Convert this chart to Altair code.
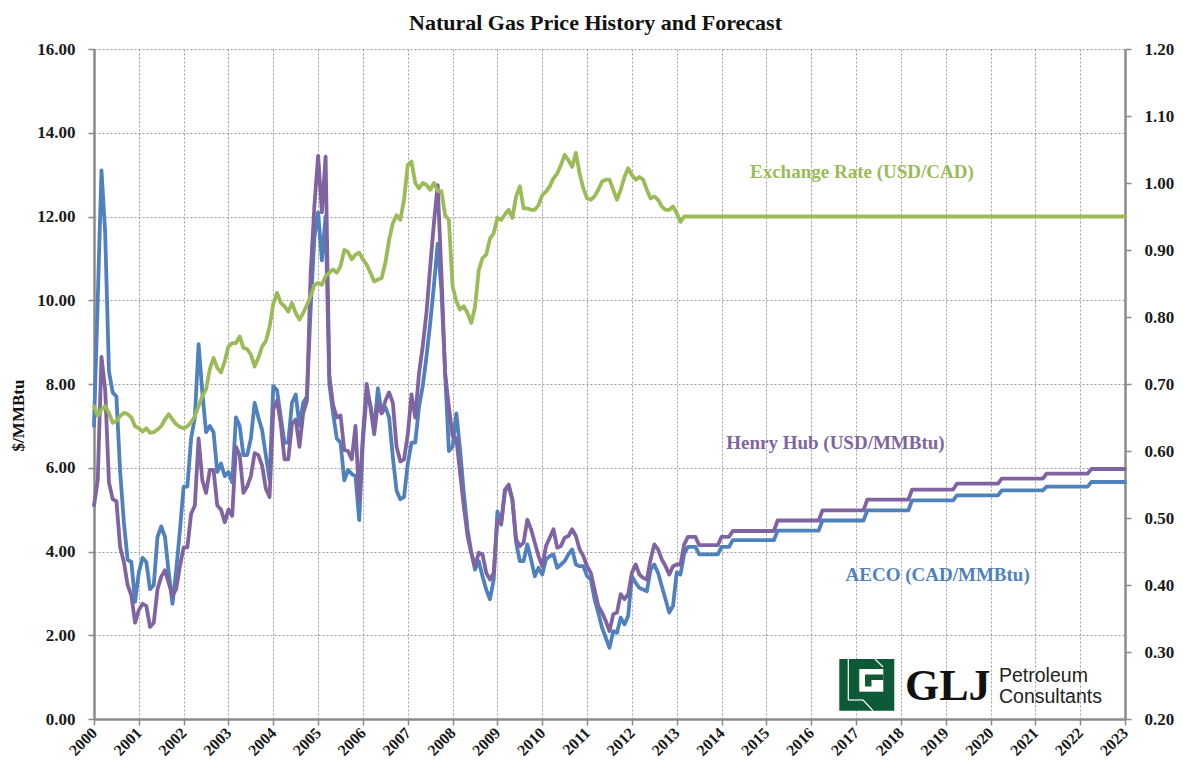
import altair as alt
import pandas as pd

START_YEAR = 2000

# Monthly history, index 0 = Jan 2000
aeco_hist = [
    7.0, 10.0, 13.1, 11.6, 8.3, 7.8, 7.7, 5.9, 4.7, 3.8, 3.75, 2.8,
    3.5, 3.85, 3.75, 3.1, 3.2, 4.35, 4.6, 4.35, 3.5, 2.75, 3.55, 4.5,
    5.55, 5.55, 6.7, 7.2, 8.95, 7.8, 6.85, 7.0, 6.85, 5.9, 6.1, 5.8,
    5.9, 5.65, 7.2, 7.0, 6.3, 6.3, 6.7, 7.55, 7.2, 6.9, 6.3, 5.7,
    7.95, 7.85, 7.2, 6.6, 6.6, 7.55, 7.75, 7.0, 7.55, 7.7, 9.8, 11.5,
    12.1, 10.95, 12.0, 8.0, 7.3, 6.7, 6.6, 5.7, 5.95, 5.85, 5.8, 4.75,
    6.65, 7.75, 7.5, 6.9, 7.9, 7.3, 7.45, 7.2, 6.25, 5.45, 5.25, 5.3,
    6.1, 6.6, 6.6, 7.45, 7.95, 8.65, 9.45, 10.35, 11.35, 10.25, 8.25, 6.4,
    6.5, 7.3, 6.43, 5.4, 4.53, 3.97, 3.57, 3.77, 3.41, 3.09, 2.86, 3.33,
    4.96, 4.64, 5.44, 5.56, 5.24, 4.21, 3.77, 3.77, 4.17, 3.81, 3.41, 3.61,
    3.45, 3.81, 3.89, 3.93, 3.61, 3.69, 3.77, 3.93, 4.05, 3.69, 3.65, 3.65,
    3.41, 3.33, 2.86, 2.54, 2.18, 1.94, 1.7, 2.1, 2.06, 2.42, 2.26, 2.46,
    3.41, 3.25, 3.13, 3.09, 3.05, 3.57, 3.69, 3.49, 3.17, 2.86, 2.54, 2.7,
    3.5, 3.45, 3.95,
]

henry_hub_hist = [
    5.1, 5.7, 8.65, 7.85, 5.65, 5.25, 5.2, 4.1, 3.75, 3.2, 2.95, 2.3,
    2.6, 2.75, 2.7, 2.2, 2.3, 3.1, 3.4, 3.55, 3.25, 2.95, 3.1, 3.65,
    4.1, 4.1, 4.9, 5.1, 6.7, 5.7, 5.4, 5.95, 5.95, 5.1, 5.0, 4.7,
    5.0, 4.85, 6.5, 6.3, 5.4, 5.55, 5.8, 6.35, 6.3, 6.05, 5.5, 5.3,
    7.4, 7.6, 7.05, 6.2, 6.2, 7.05, 7.15, 6.5, 7.3, 7.6, 10.65, 12.25,
    13.45, 12.1, 13.43, 8.2, 7.5, 7.2, 7.25, 6.42, 6.4, 6.2, 7.0, 5.23,
    6.8, 8.0, 7.45, 6.8, 7.55, 7.3, 7.6, 7.8, 7.55, 6.5, 6.15, 6.2,
    6.8, 7.75, 7.2, 8.25, 8.9, 9.7, 10.8, 11.85, 12.75, 10.65, 8.25, 7.45,
    6.75, 6.7, 5.88, 5.08, 4.37, 3.97, 3.65, 3.97, 3.93, 3.49, 3.33, 3.49,
    4.76, 4.68, 5.47, 5.6, 5.24, 4.29, 4.13, 4.21, 4.76, 4.53, 4.21, 3.89,
    3.65, 4.13, 4.33, 4.53, 4.09, 4.13, 4.33, 4.37, 4.53, 4.37, 4.05, 3.89,
    3.65, 3.49, 3.09, 2.7, 2.54, 2.34, 2.1, 2.5, 2.54, 2.98, 2.86, 2.98,
    3.49, 3.69, 3.45, 3.37, 3.33, 3.81, 4.17, 4.05, 3.81, 3.65, 3.45, 3.65,
    3.69, 3.69, 4.17,
]

usdcad_hist = [
    0.667, 0.652, 0.662, 0.667, 0.657, 0.642, 0.645, 0.652, 0.657, 0.655, 0.650, 0.637,
    0.634, 0.629, 0.634, 0.627, 0.628, 0.632, 0.637, 0.647, 0.655, 0.647, 0.640, 0.636,
    0.634, 0.637, 0.643, 0.652, 0.667, 0.682, 0.692, 0.722, 0.739, 0.724, 0.717, 0.734,
    0.756, 0.761, 0.761, 0.771, 0.754, 0.752, 0.744, 0.726, 0.739, 0.756, 0.764, 0.785,
    0.820, 0.836, 0.821, 0.816, 0.808, 0.821, 0.806, 0.796, 0.806, 0.818, 0.831, 0.848,
    0.851, 0.848, 0.861, 0.866, 0.871, 0.866, 0.876, 0.900, 0.897, 0.886, 0.893, 0.896,
    0.886, 0.878, 0.866, 0.853, 0.856, 0.858, 0.881, 0.915, 0.940, 0.952, 0.945, 0.975,
    1.027, 1.032, 1.000, 0.992, 1.000, 0.997, 0.990, 1.000, 0.988, 0.988, 0.952, 0.945,
    0.846, 0.823, 0.811, 0.816, 0.806, 0.791, 0.815, 0.870, 0.888, 0.893, 0.917, 0.925,
    0.948, 0.945, 0.953, 0.960, 0.948, 0.980, 0.995, 0.962, 0.962, 0.960, 0.960, 0.967,
    0.982, 0.987, 0.995, 1.007, 1.014, 1.027, 1.042, 1.034, 1.024, 1.045, 1.014, 0.992,
    0.977, 0.975, 0.980, 0.990, 1.002, 1.005, 1.005, 0.990, 0.975, 0.990, 1.009, 1.022,
    1.012, 1.005, 1.009, 1.005, 0.990, 0.977, 0.980, 0.975, 0.965, 0.960, 0.960, 0.965,
    0.955, 0.942, 0.950,
]

# Forecast plateaus (month index from Jan 2000)
fc_start_month = [159, 162, 168, 171, 183, 195, 207, 219, 231, 243, 255, 267]
fc_end_month = [161, 167, 170, 182, 194, 206, 218, 230, 242, 254, 266, 276]
fc_henry_hub = [4.35, 4.15, 4.35, 4.49, 4.74, 4.98, 5.24, 5.48, 5.62, 5.74, 5.86, 5.97]
fc_aeco = [4.11, 3.93, 4.11, 4.27, 4.50, 4.74, 4.98, 5.22, 5.34, 5.46, 5.55, 5.66]
usdcad_fc_month = [276]
usdcad_fc = [0.95]

year_ticks = list(range(2000, 2024))
price_ticks = [0, 2, 4, 6, 8, 10, 12, 14, 16]
fx_ticks = [0.2, 0.3, 0.4, 0.5, 0.6, 0.7, 0.8, 0.9, 1.0, 1.1, 1.2]

C_AECO = "#4F81BD"
C_HH = "#8064A2"
C_FX = "#9BBB59"
SERIF = "Liberation Serif"


def to_t(m):
    return START_YEAR + m / 12.0


def hist_rows(vals):
    return [{"t": to_t(i), "v": v} for i, v in enumerate(vals)]


def plateau_rows(starts, ends, levels):
    rows = []
    for s, e, lv in zip(starts, ends, levels):
        rows.append({"t": to_t(s), "v": lv})
        rows.append({"t": to_t(e), "v": lv})
    return rows


def frame(rows):
    df = pd.DataFrame(rows)
    df["o"] = range(len(df))
    return df


aeco_df = frame(hist_rows(aeco_hist) + plateau_rows(fc_start_month, fc_end_month, fc_aeco))
hh_df = frame(hist_rows(henry_hub_hist) + plateau_rows(fc_start_month, fc_end_month, fc_henry_hub))
fx_df = frame(hist_rows(usdcad_hist) + [{"t": to_t(m), "v": v} for m, v in zip(usdcad_fc_month, usdcad_fc)])

X = alt.X(
    "t:Q",
    scale=alt.Scale(domain=[2000, 2023], nice=False, zero=False),
    axis=alt.Axis(
        values=year_ticks, format="d", title=None, grid=True,
        labelAngle=-45, labelAlign="right", labelBaseline="middle",
        labelPadding=5, labelFontSize=16, tickSize=6,
    ),
)
Y_PRICE = alt.Y(
    "v:Q",
    scale=alt.Scale(domain=[0, 16], nice=False, zero=False),
    axis=alt.Axis(
        values=price_ticks, format=".2f", title="$/MMBtu", grid=True,
        titleFont=SERIF, titleFontSize=17, titleFontWeight="bold", titleColor="#111111",
        titleAngle=-90, titleX=-76, titleY=366, titleAlign="center", titleBaseline="middle",
        tickSize=6, labelPadding=13,
    ),
)
Y_FX = alt.Y(
    "v:Q",
    scale=alt.Scale(domain=[0.2, 1.2], nice=False, zero=False),
    axis=alt.Axis(
        orient="right", values=fx_ticks, format=".2f", title=None, grid=False,
        tickSize=6, labelPadding=13,
    ),
)

line_kw = dict(strokeWidth=3.8, strokeCap="round", strokeJoin="round")

aeco_line = alt.Chart(aeco_df).mark_line(color=C_AECO, **line_kw).encode(
    x=X, y=Y_PRICE, order="o:Q")
hh_line = alt.Chart(hh_df).mark_line(color=C_HH, **line_kw).encode(
    x=X, y=Y_PRICE, order="o:Q")
fx_line = alt.Chart(fx_df).mark_line(color=C_FX, **line_kw).encode(
    x=X, y=Y_FX, order="o:Q")

label_kw = dict(font=SERIF, fontWeight="bold", fontSize=19, align="center", baseline="middle")

hh_label = alt.Chart(pd.DataFrame({"t": [2016.54], "v": [6.58], "s": ["Henry Hub (USD/MMBtu)"]})).mark_text(
    color=C_HH, **label_kw).encode(x=X, y=Y_PRICE, text="s:N")
aeco_label = alt.Chart(pd.DataFrame({"t": [2018.82], "v": [3.45], "s": ["AECO (CAD/MMBtu)"]})).mark_text(
    color=C_AECO, **label_kw).encode(x=X, y=Y_PRICE, text="s:N")
fx_label = alt.Chart(pd.DataFrame({"t": [2017.13], "v": [1.016], "s": ["Exchange Rate (USD/CAD)"]})).mark_text(
    color=C_FX, **label_kw).encode(x=X, y=Y_FX, text="s:N")

# ---- Logo (pixel positions inside plot area) ----
one = pd.DataFrame({"k": [0]})


def box(x1, x2, y1, y2, color):
    return alt.Chart(one).mark_rect(color=color).encode(
        x=alt.value(x1), x2=alt.value(x2), y=alt.value(y1), y2=alt.value(y2))


def seg(x1, x2, y1, y2):
    return alt.Chart(one).mark_rule(color="white", strokeWidth=1.2).encode(
        x=alt.value(x1), x2=alt.value(x2), y=alt.value(y1), y2=alt.value(y2))


LOGO_GREEN = "#0E5A36"
logo = [
    box(745.3, 800.3, 610, 661.7, LOGO_GREEN),
    box(765.3, 789.3, 620, 642.7, "white"),
    box(771, 789.3, 625.5, 631, LOGO_GREEN),
    box(771, 777.5, 631, 637.5, LOGO_GREEN),
    seg(754.3, 754.3, 610, 651),
    seg(754.3, 769, 651, 651),
    seg(769, 779, 651, 661.7),
    seg(781, 789, 610, 618),
    alt.Chart(one).mark_text(font=SERIF, fontWeight="bold", fontSize=44, align="left",
                             baseline="alphabetic", color="#111111").encode(
        x=alt.value(811), y=alt.value(651), text=alt.value("GLJ")),
    alt.Chart(one).mark_text(font="Liberation Sans", fontSize=19.5, align="left",
                             baseline="alphabetic", color="#222222").encode(
        x=alt.value(905), y=alt.value(632.5), text=alt.value("Petroleum")),
    alt.Chart(one).mark_text(font="Liberation Sans", fontSize=19.5, align="left",
                             baseline="alphabetic", color="#222222").encode(
        x=alt.value(905), y=alt.value(654), text=alt.value("Consultants")),
]

prices = alt.layer(aeco_line, hh_line, hh_label, aeco_label, *logo)
fx = alt.layer(fx_line, fx_label)

chart = (
    alt.layer(prices, fx)
    .resolve_scale(y="independent")
    .properties(
        width=1031, height=670,
        padding={"left": 86, "top": 41, "right": 50, "bottom": 44},
        autosize=alt.AutoSizeParams(type="none"),
        title=alt.TitleParams(
            "Natural Gas Price History and Forecast", font=SERIF, fontSize=22,
            fontWeight="bold", color="#111111", anchor="middle", dx=-14, offset=5,
        ),
    )
    .configure_view(stroke=None)
    .configure_axis(
        domainColor="#8a8a8a", domainWidth=2.5, tickColor="#8a8a8a", tickWidth=1.5,
        labelFont=SERIF, labelFontWeight="bold", labelFontSize=17, labelColor="#1a1a1a",
        gridColor="#9a9a9a", gridDash=[2, 2], gridWidth=1,
    )
)

chart.save("out.html", embed_options={"renderer": "svg", "actions": False})
